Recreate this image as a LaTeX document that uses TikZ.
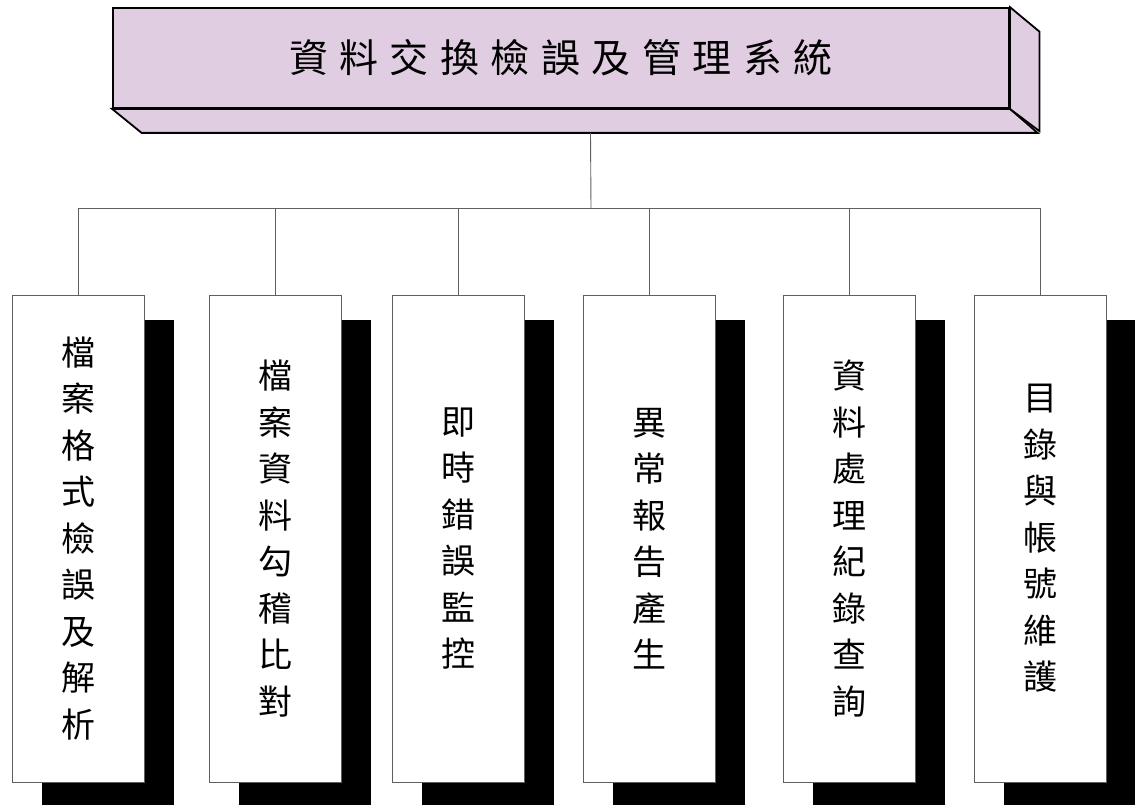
\documentclass[tikz,border=0pt]{standalone}
\usepackage{fontspec}
\usepackage{xcolor}
\usetikzlibrary{shadows}
\newfontfamily\cjk{Noto Sans CJK TC}
\definecolor{lilac}{RGB}{224,205,225}
\definecolor{linegray}{RGB}{95,95,95}
\newcommand{\gap}{\hspace{11.5pt}}

\begin{document}
\begin{tikzpicture}[x=1pt,y=-1pt,
    link/.style={draw=linegray,line width=0.9pt},
    facebox/.style={draw=black,line width=1.8pt,fill=lilac,line join=miter},
    taskbox/.style={draw=linegray,line width=0.9pt,fill=white,
        minimum width=132pt,minimum height=487pt,inner sep=0pt,align=center,
        font=\cjk\fontsize{34}{46.5}\selectfont,
        drop shadow={shadow xshift=29.5pt,shadow yshift=-24.5pt,fill=black,opacity=1}}]

    \useasboundingbox (0,0) rectangle (1135,805);

    % Title block: front face
    \node[facebox,minimum width=896pt,minimum height=100pt,inner sep=0pt,
        font=\cjk\fontsize{39}{42}\selectfont] (title) at (561,58)
        {資\gap{}料\gap{}交\gap{}換\gap{}檢\gap{}誤\gap{}及\gap{}管\gap{}理\gap{}系\gap{}統\gap{}};

    % Title block: bottom and right faces
    \draw[facebox] (title.south west) -- ++(29.5,24) -- ++(896,0) -- (title.south east) -- cycle;
    \draw[facebox] (title.north east) -- ++(29.5,24.5) -- ++(0,99.5) -- (title.south east) -- cycle;

    % Branch points
    \path (title.south) ++(29.5,24) coordinate (base);
    \coordinate (bar) at (591,208);

    % Task boxes
    \node[taskbox] (b1) at (78,538.5) {檔\\案\\格\\式\\檢\\誤\\及\\解\\析};
    \node[taskbox] (b2) at (275,538.5) {檔\\案\\資\\料\\勾\\稽\\比\\對};
    \node[taskbox] (b3) at (458,538.5) {即\\時\\錯\\誤\\監\\控};
    \node[taskbox] (b4) at (649,538.5) {異\\常\\報\\告\\產\\生};
    \node[taskbox] (b5) at (849,538.5) {資\\料\\處\\理\\紀\\錄\\查\\詢};
    \node[taskbox] (b6) at (1040,538.5) {目\\錄\\與\\帳\\號\\維\\護};

    % Connectors
    \draw[link] (base) -- (bar);
    \foreach \i in {1,...,6}
        \draw[link] (bar) -| (b\i.north);
\end{tikzpicture}
\end{document}
